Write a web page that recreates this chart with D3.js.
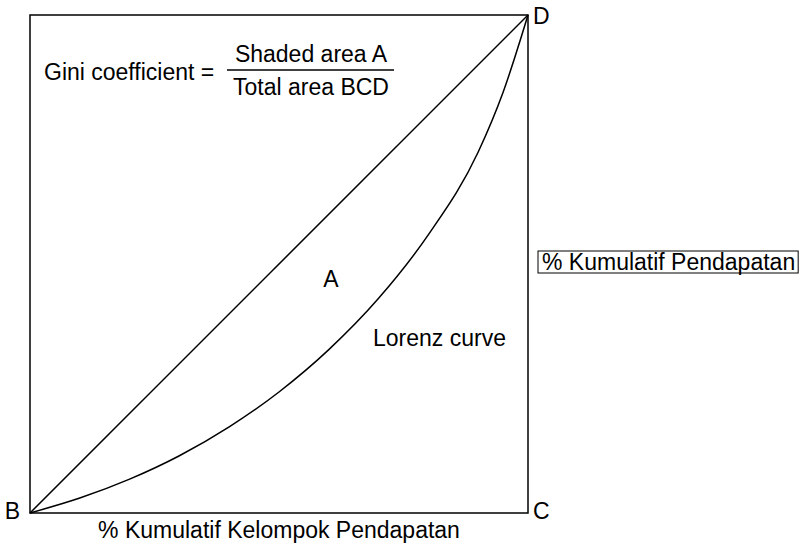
<!DOCTYPE html>
<html><head><meta charset="utf-8">
<script src="https://cdn.jsdelivr.net/npm/d3@7"></script>
<style>body{margin:0;background:#fff}text{font-family:"Liberation Sans",Arial,sans-serif;fill:#000}</style>
</head><body>
<svg id="c" width="805" height="547"></svg>
<script>
// cumulative population share (%) and cumulative income share (%)
const populationPct = [0, 10, 20, 30, 40, 50, 60, 70, 80, 90, 95, 100];
const incomePct     = [0, 3.0, 6.8, 11.5, 17.3, 24.3, 32.8, 43.1, 55.9, 72.5, 84.5, 100];
const equalityLine  = [0, 100];
const cornerLabels  = ["B", "C", "D"];
const xAxisLabel = "% Kumulatif Kelompok Pendapatan";
const yAxisLabel = "% Kumulatif Pendapatan";

const svg = d3.select("#c");
const fs = 23;
const x = d3.scaleLinear().domain([0, 100]).range([30, 528]);
const y = d3.scaleLinear().domain([0, 100]).range([513, 15]);

svg.append("rect").attr("x", x(0)).attr("y", y(100))
  .attr("width", x(100) - x(0)).attr("height", y(0) - y(100))
  .attr("fill", "none").attr("stroke", "#000").attr("stroke-width", 1.5);

svg.append("path").datum(equalityLine)
  .attr("d", d3.line().x(d => x(d)).y(d => y(d)))
  .attr("fill", "none").attr("stroke", "#000").attr("stroke-width", 1.5);

svg.append("path").datum(populationPct.map((p, i) => [p, incomePct[i]]))
  .attr("d", d3.line().x(d => x(d[0])).y(d => y(d[1])).curve(d3.curveMonotoneX))
  .attr("fill", "none").attr("stroke", "#000").attr("stroke-width", 1.5);

const t = (s, px, py, anchor) => svg.append("text").attr("x", px).attr("y", py)
  .attr("font-size", fs).attr("text-anchor", anchor || "start").text(s);

t(cornerLabels[0], 20, 519, "end");
t(cornerLabels[1], 533, 519);
t(cornerLabels[2], 533, 24);
t("A", 331, 287, "middle");
t("Lorenz curve", 373, 346);
t("Gini coefficient =", 44, 80);
t("Shaded area A", 311, 62, "middle");
svg.append("line").attr("x1", 227).attr("x2", 394).attr("y1", 70).attr("y2", 70)
  .attr("stroke", "#000").attr("stroke-width", 1.5);
t("Total area BCD", 311, 95, "middle");
t(xAxisLabel, (x(0) + x(100)) / 2, 538, "middle");
const yl = t(yAxisLabel, 542, 270);
const w = yl.node().getComputedTextLength();
svg.append("rect").attr("x", 538).attr("y", 251).attr("width", w + 7).attr("height", 22)
  .attr("fill", "none").attr("stroke", "#000").attr("stroke-width", 1);
</script>
</body></html>
